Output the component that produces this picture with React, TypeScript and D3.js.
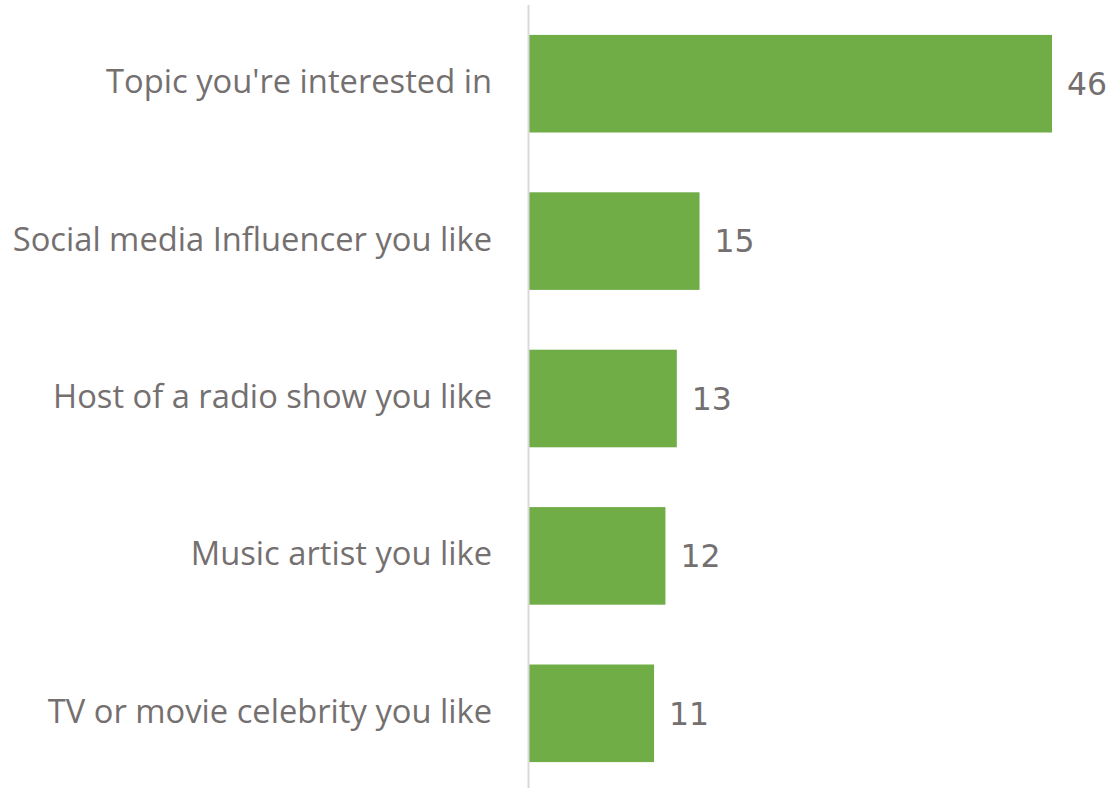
import React from "react";
import * as d3 from "d3";

const categories = [
  "Topic you're interested in",
  "Social media Influencer you like",
  "Host of a radio show you like",
  "Music artist you like",
  "TV or movie celebrity you like",
];
const values = [46, 15, 13, 12, 11];

const W = 1110;
const H = 788;
const axisX = 528.5;

export default function App() {
  const x = d3.scaleLinear().domain([0, 46]).range([axisX + 0.5, 1052]);
  const y = d3
    .scaleBand<string>()
    .domain(categories)
    .range([5, 792])
    .paddingInner(0.38)
    .paddingOuter(0.19);

  return (
    <svg
      width={W}
      height={H}
      style={{ position: "absolute", left: 0, top: 0, background: "#fff" }}
    >
      {categories.map((c, i) => {
        const yy = y(c)!;
        const cy = yy + y.bandwidth() / 2;
        return (
          <g key={c}>
            <rect
              x={x(0)}
              y={yy}
              width={x(values[i]) - x(0)}
              height={y.bandwidth()}
              fill="#70AD47"
            />
            <text
              x={492}
              y={cy - 2}
              dy="0.35em"
              textAnchor="end"
              fontFamily="Open Sans"
              fontSize={32.7}
              fill="#757070"
            >
              {c}
            </text>
            <text
              x={x(values[i]) + 15}
              y={cy}
              dy="0.36em"
              textAnchor="start"
              fontFamily="DejaVu Sans"
              fontSize={31.5}
              fill="#757070"
            >
              {values[i]}
            </text>
          </g>
        );
      })}
      <line x1={axisX} x2={axisX} y1={5} y2={H} stroke="#d9d9d9" strokeWidth={2} />
    </svg>
  );
}
